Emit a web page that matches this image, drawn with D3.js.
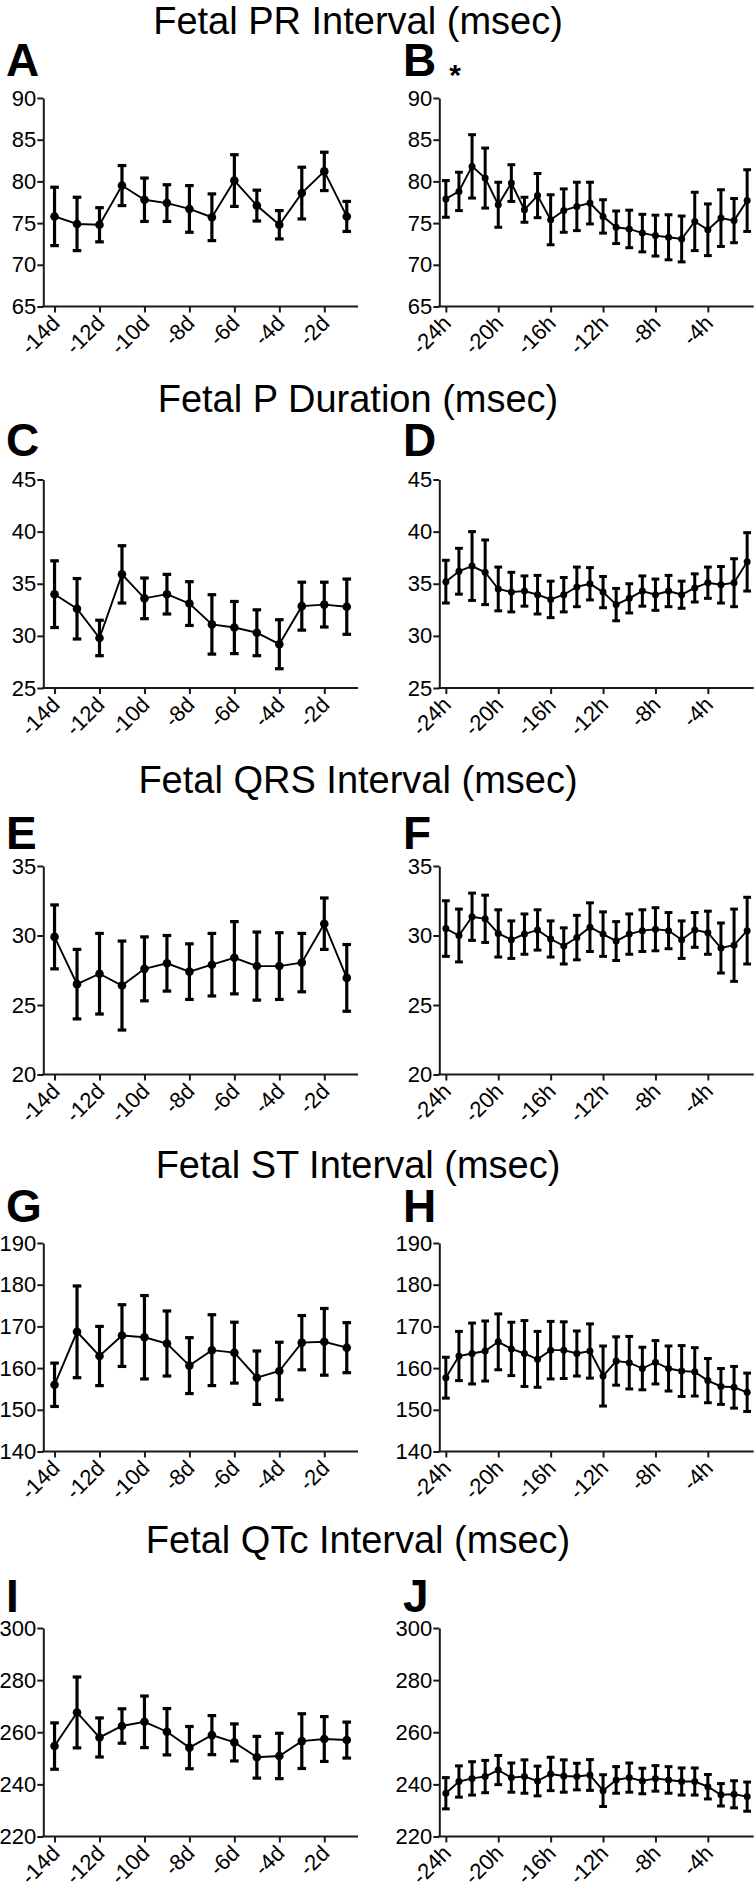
<!DOCTYPE html>
<html><head><meta charset="utf-8">
<script src="https://cdn.jsdelivr.net/npm/d3@7"></script>
<style>
body{margin:0;background:#fff}
svg text{font-family:"Liberation Sans",Arial,sans-serif;fill:#000}
</style>
</head><body>
<svg id="c" width="755" height="1886"></svg>
<script>
// ---------- categories / ticks ----------
const days = [-14,-13,-12,-11,-10,-9,-8,-7,-6,-5,-4,-3,-2,-1];
const hours = [-24,-23,-22,-21,-20,-19,-18,-17,-16,-15,-14,-13,-12,-11,-10,-9,-8,-7,-6,-5,-4,-3,-2,-1];
const dayTicks = [-14,-12,-10,-8,-6,-4,-2];
const hourTicks = [-24,-20,-16,-12,-8,-4];
const titles = ["Fetal PR Interval (msec)","Fetal P Duration (msec)","Fetal QRS Interval (msec)","Fetal ST Interval (msec)","Fetal QTc Interval (msec)"];
const panelLetters = [["A","B"],["C","D"],["E","F"],["G","H"],["I","J"]];
const yTicksPR = [65,70,75,80,85,90];
const yTicksP = [25,30,35,40,45];
const yTicksQRS = [20,25,30,35];
const yTicksST = [140,150,160,170,180,190];
const yTicksQTc = [220,240,260,280,300];

// ---------- series (mean, SEM) ----------
const prDayMean = [75.8,74.9,74.8,79.5,77.8,77.4,76.7,75.7,80.1,77.1,74.8,78.6,81.2,75.8];
const prDayErr  = [3.5,3.2,2.05,2.4,2.6,2.2,2.8,2.8,3.1,1.85,1.7,3.1,2.3,1.8];
const prHourMean = [77.9,78.8,81.8,80.4,77.2,79.8,76.6,78.3,75.4,76.5,77.0,77.4,75.8,74.5,74.3,73.8,73.5,73.3,73.1,75.2,74.2,75.6,75.3,77.7];
const prHourErr  = [2.2,2.3,3.8,3.6,2.7,2.2,1.5,2.65,3.0,2.6,2.9,2.5,2.0,1.95,2.25,2.25,2.45,2.7,2.75,3.5,3.1,3.4,2.65,3.7];

const pDayMean = [34.0,32.6,29.8,35.9,33.6,34.0,33.1,31.1,30.8,30.3,29.2,32.85,33.0,32.8];
const pDayErr  = [3.2,2.9,1.7,2.75,1.95,1.9,2.1,2.85,2.5,2.2,2.35,2.3,2.15,2.65];
const pHourMean = [35.2,36.2,36.7,36.1,34.5,34.2,34.3,33.95,33.5,33.95,34.7,35.0,34.2,33.0,33.6,34.3,33.95,34.3,33.95,34.6,35.1,34.9,35.1,37.1];
const pHourErr  = [2.05,2.2,3.3,3.1,2.1,1.9,1.45,1.85,1.75,1.65,1.9,1.55,1.5,1.55,1.4,1.45,1.5,1.5,1.3,1.35,1.5,1.75,2.3,2.8];

const qrsDayMean = [29.9,26.5,27.25,26.4,27.6,28.0,27.4,27.9,28.4,27.8,27.8,28.05,30.85,26.95];
const qrsDayErr  = [2.3,2.5,2.9,3.2,2.3,2.0,2.0,2.25,2.6,2.45,2.4,2.1,1.85,2.4];
const qrsHourMean = [30.5,30.0,31.35,31.2,30.15,29.7,30.1,30.4,29.75,29.25,29.85,30.6,30.1,29.6,30.1,30.35,30.45,30.35,29.7,30.4,30.2,29.1,29.3,30.35];
const qrsHourErr  = [2.0,1.9,1.7,1.7,1.7,1.35,1.45,1.45,1.3,1.3,1.6,1.75,1.6,1.4,1.45,1.5,1.55,1.3,1.35,1.25,1.55,1.8,2.6,2.4];

const stDayMean = [156.0,168.7,162.9,167.8,167.4,165.9,160.6,164.3,163.7,157.7,159.3,166.1,166.3,164.9];
const stDayErr  = [5.2,11.0,7.1,7.4,10.0,7.8,6.7,8.5,7.3,6.4,6.9,6.5,8.0,6.0];
const stHourMean = [157.7,162.9,163.5,164.1,166.3,164.6,163.5,162.1,164.3,164.3,163.5,164.1,158.1,161.7,161.3,159.9,161.4,159.9,159.3,159.1,157.0,155.6,155.4,154.2];
const stHourErr  = [4.9,5.9,7.3,7.2,6.7,6.4,7.9,6.7,6.9,6.8,5.4,6.5,7.2,5.8,6.3,5.1,5.2,5.4,6.1,5.8,5.3,4.3,5.0,4.6];

const qtcDayMean = [254.7,267.6,258.0,262.4,264.0,260.2,254.1,258.9,256.1,250.4,250.9,256.6,257.4,257.0];
const qtcDayErr  = [8.9,13.6,7.5,6.6,9.9,8.9,8.1,7.5,7.1,8.0,8.7,10.5,8.6,6.9];
const qtcHourMean = [236.6,241.1,242.3,243.0,245.5,242.6,243.0,241.3,244.0,243.2,243.0,243.6,237.6,241.7,242.6,241.3,242.3,241.7,241.1,241.1,239.1,236.0,236.2,235.3];
const qtcHourErr  = [6.0,6.0,6.4,6.2,5.6,5.6,6.4,5.7,6.4,6.2,5.1,5.9,6.1,5.1,5.6,4.9,4.9,5.1,5.2,5.2,4.7,4.3,5.2,5.6];

// ---------- layout ----------
const rowTop = [98, 479.5, 866, 1243, 1628];
const titleBase = [34, 412, 793, 1178, 1553];
const letterBase = [76, 456, 849, 1222, 1612];
const plotH = 208.5;

const rows = [
  {yTicks:yTicksPR,  left:{mean:prDayMean,err:prDayErr},   right:{mean:prHourMean,err:prHourErr}, star:true},
  {yTicks:yTicksP,   left:{mean:pDayMean,err:pDayErr},     right:{mean:pHourMean,err:pHourErr}},
  {yTicks:yTicksQRS, left:{mean:qrsDayMean,err:qrsDayErr}, right:{mean:qrsHourMean,err:qrsHourErr}},
  {yTicks:yTicksST,  left:{mean:stDayMean,err:stDayErr},   right:{mean:stHourMean,err:stHourErr}},
  {yTicks:yTicksQTc, left:{mean:qtcDayMean,err:qtcDayErr}, right:{mean:qtcHourMean,err:qtcHourErr}}
];

const svg = d3.select("#c");

function drawPanel(g, opt){
  const {x0,x1,top,yTicks,xs,xDomain,xTicks,suffix,mean,err,r,cap,ew} = opt;
  const x = d3.scaleLinear().domain(xDomain).range([x0,x1]);
  const y = d3.scaleLinear().domain([yTicks[0], yTicks[yTicks.length-1]]).range([top+plotH, top]);
  const bottom = top+plotH;

  const ya = g.append("g").attr("transform",`translate(${x0},0)`)
    .call(d3.axisLeft(y).tickValues(yTicks).tickSize(6).tickPadding(1).tickSizeOuter(0));
  const xa = g.append("g").attr("transform",`translate(0,${bottom})`)
    .call(d3.axisBottom(x).tickValues(xTicks).tickSize(6).tickSizeOuter(0).tickFormat(d=>d+suffix));
  [ya,xa].forEach(a=>{
    a.select(".domain").attr("stroke","#1a1a1a").attr("stroke-width",2);
    a.selectAll(".tick line").attr("stroke","#1a1a1a").attr("stroke-width",2);
    a.selectAll("text").attr("font-size",22).attr("font-family",'"Liberation Sans",Arial,sans-serif').attr("fill","#000");
  });
  xa.select(".domain").attr("d",`M${x0-1},0H${x1}`);
  xa.selectAll(".tick text")
    .attr("text-anchor","end")
    .attr("dy",0).attr("y",0)
    .attr("transform","translate(6,18) rotate(-45)");

  g.append("path").datum(mean)
    .attr("fill","none").attr("stroke","#000").attr("stroke-width",1.9)
    .attr("d", d3.line().x((d,i)=>x(xs[i])).y(d=>y(d)));
  const eb = g.append("g").attr("stroke","#000").attr("stroke-width",ew).attr("fill","none");
  mean.forEach((m,i)=>{
    const cx = x(xs[i]), yt = y(m+err[i]), yb = y(m-err[i]);
    eb.append("line").attr("x1",cx).attr("x2",cx).attr("y1",yt).attr("y2",yb);
    eb.append("line").attr("x1",cx-cap).attr("x2",cx+cap).attr("y1",yt).attr("y2",yt);
    eb.append("line").attr("x1",cx-cap).attr("x2",cx+cap).attr("y1",yb).attr("y2",yb);
  });
  g.append("g").selectAll("circle").data(mean).join("circle")
    .attr("cx",(d,i)=>x(xs[i])).attr("cy",d=>y(d)).attr("r",r).attr("fill","#000");
}

rows.forEach((row,k)=>{
  const top = rowTop[k];
  svg.append("text").attr("x",358).attr("y",titleBase[k]).attr("text-anchor","middle")
    .attr("font-size",38).text(titles[k]);
  svg.append("text").attr("x",6).attr("y",letterBase[k]).attr("font-size",46).attr("font-weight","bold").text(panelLetters[k][0]);
  svg.append("text").attr("x",403).attr("y",letterBase[k]).attr("font-size",46).attr("font-weight","bold").text(panelLetters[k][1]);
  if(row.star){
    svg.append("text").attr("x",455).attr("y",letterBase[k]+9).attr("text-anchor","middle")
      .attr("font-size",30).attr("font-weight","bold").text("*");
  }
  drawPanel(svg.append("g"), {x0:43.3,x1:358,top,yTicks:row.yTicks,xs:days,xDomain:[-14.5,-0.5],
    xTicks:dayTicks,suffix:"d",mean:row.left.mean,err:row.left.err,r:4.3,cap:4.3,ew:3.2});
  drawPanel(svg.append("g"), {x0:439.3,x1:753.7,top,yTicks:row.yTicks,xs:hours,xDomain:[-24.5,-0.5],
    xTicks:hourTicks,suffix:"h",mean:row.right.mean,err:row.right.err,r:3.5,cap:3.9,ew:3});
});
</script>
</body></html>
